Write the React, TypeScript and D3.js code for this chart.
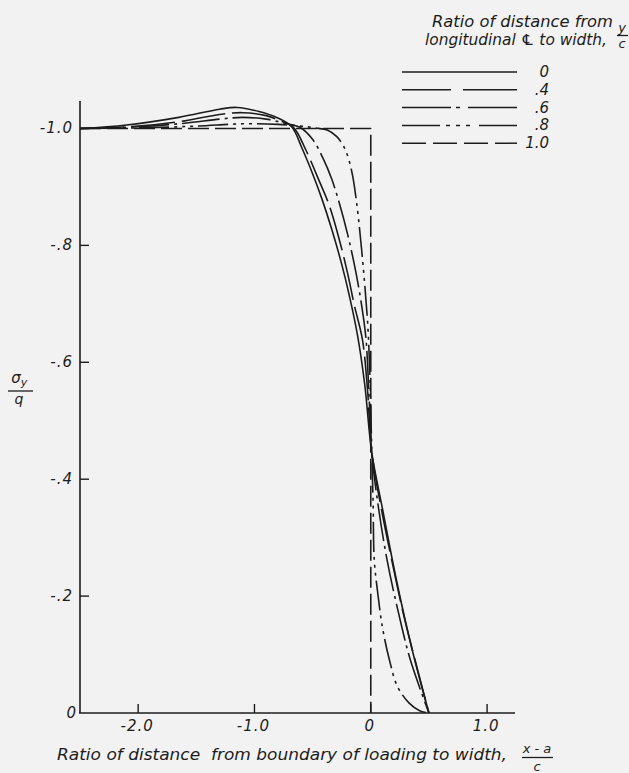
import React from "react";
import { scaleLinear, line, curveCatmullRom, curveLinear } from "d3";

// y/c = 0 .. 1.0 ; points are [ (x-a)/c , sigma_y/q ]
const curve0: [number, number][] = [
  [-2.5, -1.0], [-2.1, -1.006], [-1.65, -1.019], [-1.3, -1.033], [-1.15, -1.036],
  [-0.96, -1.029], [-0.8, -1.018], [-0.68, -1.003], [-0.593, -0.967], [-0.507, -0.926],
  [-0.421, -0.88], [-0.335, -0.827], [-0.249, -0.767], [-0.181, -0.711], [-0.112, -0.644],
  [-0.052, -0.562], [0.009, -0.445], [0.1, -0.35], [0.22, -0.228], [0.35, -0.113], [0.5, 0],
];
const curve04: [number, number][] = [
  [-2.5, -1.0], [-2.0, -1.004], [-1.6, -1.013], [-1.3, -1.024], [-1.1, -1.027],
  [-0.9, -1.022], [-0.78, -1.013], [-0.665, -1.002], [-0.56, -0.964], [-0.46, -0.918],
  [-0.36, -0.87], [-0.275, -0.813], [-0.2, -0.753], [-0.143, -0.699], [-0.072, -0.639],
  [-0.028, -0.553], [0.009, -0.445], [0.1, -0.34], [0.18, -0.262], [0.28, -0.17],
  [0.38, -0.091], [0.5, 0],
];
const curve06: [number, number][] = [
  [-2.5, -1.0], [-2.0, -1.003], [-1.6, -1.009], [-1.3, -1.016], [-1.1, -1.019],
  [-0.9, -1.016], [-0.74, -1.009], [-0.61, -1.002], [-0.499, -0.981], [-0.413, -0.95],
  [-0.335, -0.913], [-0.267, -0.87], [-0.198, -0.818], [-0.138, -0.764], [-0.086, -0.707],
  [-0.043, -0.644], [-0.017, -0.553], [0.009, -0.445], [0.06, -0.36], [0.14, -0.262],
  [0.24, -0.17], [0.34, -0.091], [0.5, 0],
];
const curve08: [number, number][] = [
  [-2.5, -1.0], [-2.0, -1.001], [-1.5, -1.004], [-1.1, -1.008], [-0.8, -1.007],
  [-0.6, -1.004], [-0.482, -1.001], [-0.37, -0.997], [-0.292, -0.986], [-0.232, -0.969],
  [-0.189, -0.947], [-0.155, -0.918], [-0.129, -0.884], [-0.103, -0.841], [-0.077, -0.789],
  [-0.052, -0.733], [-0.026, -0.664], [-0.009, -0.587], [0.0, -0.519], [0.009, -0.445],
  [0.02, -0.36], [0.03, -0.262], [0.06, -0.205], [0.1, -0.147], [0.16, -0.091],
  [0.23, -0.045], [0.33, -0.017], [0.42, -0.004], [0.5, 0],
];
const curve10: [number, number][] = [[-2.5, -1.0], [0, -1.0], [0, 0]];

const legendLabels = ["0", ".4", ".6", ".8", "1.0"];
const xTicks = [-2, -1, 0, 1];
const xTickLabels = ["-2.0", "-1.0", "0", "1.0"];
const yTicks = [0, -0.2, -0.4, -0.6, -0.8, -1.0];
const yTickLabels = ["0", "-.2", "-.4", "-.6", "-.8", "-1.0"];

const INK = "#1c1c1c";
const FONT = "'DejaVu Sans', sans-serif";

const series = [
  { pts: curve0, dash: "none", legendDash: "none", smooth: true },
  { pts: curve04, dash: "44 7", legendDash: "49 12 60", smooth: true },
  { pts: curve06, dash: "38 5 3 5", legendDash: "49 5 4 8 100", smooth: true },
  { pts: curve08, dash: "30 5 3 5 3 5 3 5", legendDash: "38 6 4 6 4 6 4 9 100", smooth: true },
  { pts: curve10, dash: "21 6", legendDash: "24 7", smooth: false },
];

export default function App() {
  const x = scaleLinear().domain([-2.5, 1.24]).range([80, 515]);
  const y = scaleLinear().domain([0, -1.047]).range([713, 101]);

  const gen = (smooth: boolean) =>
    line<[number, number]>()
      .x((d) => x(d[0]))
      .y((d) => y(d[1]))
      .curve(smooth ? curveCatmullRom.alpha(0.5) : curveLinear);

  return (
    <div style={{ position: "absolute", left: 0, top: 0 }}>
      <svg width={629} height={773} style={{ display: "block", background: "#f2f2f2" }}>
        <g fill={INK} fontFamily={FONT} fontStyle="italic">
          {/* legend title */}
          <text x={432} y={27} fontSize={15} textLength={181} lengthAdjust="spacingAndGlyphs">
            Ratio of distance from
          </text>
          <text x={425} y={45} fontSize={15} textLength={182} lengthAdjust="spacingAndGlyphs">
            longitudinal ℄ to width,
          </text>
          <text x={622} y={32} fontSize={13} textAnchor="middle">y</text>
          <line x1={617} x2={628} y1={35.5} y2={35.5} stroke={INK} strokeWidth={1.3} />
          <text x={622} y={48} fontSize={13} textAnchor="middle">c</text>
        </g>

        {series.map((s, i) => {
          const ly = 72 + i * 17.8;
          return (
            <g key={"lg" + i}>
              <line x1={402} x2={517} y1={ly} y2={ly} stroke={INK} strokeWidth={1.5}
                strokeDasharray={s.legendDash} />
              <text x={549} y={ly + 5} fontSize={15} fontFamily={FONT} fontStyle="italic"
                fill={INK} textAnchor="end">{legendLabels[i]}</text>
            </g>
          );
        })}

        {/* axes */}
        <line x1={80} x2={80} y1={101} y2={713} stroke={INK} strokeWidth={1.6} />
        <line x1={79} x2={515} y1={713} y2={713} stroke={INK} strokeWidth={1.6} />
        {xTicks.map((t, i) => (
          <g key={"xt" + i}>
            <line x1={x(t)} x2={x(t)} y1={713} y2={704} stroke={INK} strokeWidth={1.4} />
            <text x={x(t) - 1} y={731} fontSize={15} fontFamily={FONT} fontStyle="italic"
              fill={INK} textAnchor="middle" letterSpacing={1}>{xTickLabels[i]}</text>
          </g>
        ))}
        {yTicks.map((t, i) => (
          <g key={"yt" + i}>
            {t !== 0 && (
              <line x1={80} x2={89} y1={y(t)} y2={y(t)} stroke={INK} strokeWidth={1.4} />
            )}
            <text x={t === 0 ? 77 : 73} y={y(t) + 5} fontSize={15} fontFamily={FONT}
              fontStyle="italic" fill={INK} textAnchor="end" letterSpacing={1}>{yTickLabels[i]}</text>
          </g>
        ))}

        {/* curves */}
        {series.map((s, i) => (
          <path key={"c" + i} d={gen(s.smooth)(s.pts) || ""} fill="none" stroke={INK}
            strokeWidth={1.6} strokeDasharray={s.dash} strokeLinejoin="round" />
        ))}

        {/* y label */}
        <g fill={INK} fontFamily={FONT} fontStyle="italic">
          <text x={16} y={383} fontSize={15} textAnchor="middle">σ</text>
          <text x={24} y={386} fontSize={11} textAnchor="middle">y</text>
          <line x1={8} x2={33} y1={391} y2={391} stroke={INK} strokeWidth={1.3} />
          <text x={19} y={404} fontSize={14} textAnchor="middle">q</text>
        </g>

        {/* x label */}
        <g fill={INK} fontFamily={FONT} fontStyle="italic">
          <text x={57} y={760} fontSize={15} textLength={450} lengthAdjust="spacingAndGlyphs"
            style={{ whiteSpace: "pre" }}>
            Ratio of distance  from boundary of loading to width,
          </text>
          <text x={537} y={753} fontSize={13} textAnchor="middle">x - a</text>
          <line x1={522} x2={553} y1={757.5} y2={757.5} stroke={INK} strokeWidth={1.3} />
          <text x={537} y={771} fontSize={13} textAnchor="middle">c</text>
        </g>
      </svg>
    </div>
  );
}
